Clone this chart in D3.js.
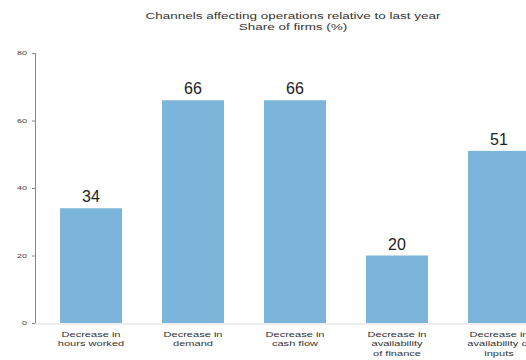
<!DOCTYPE html>
<html>
<head>
<meta charset="utf-8">
<script src="https://cdn.jsdelivr.net/npm/d3@7"></script>
<style>
  body { margin: 0; background: #fff; }
  text { font-family: "Liberation Sans", Arial, sans-serif; }
</style>
</head>
<body>
<svg id="chart" width="526" height="360"></svg>
<script>
// data
var categories = ["hours", "demand", "cashflow", "finance", "inputs"];
var labels = [
  ["Decrease in", "hours worked"],
  ["Decrease in", "demand"],
  ["Decrease in", "cash flow"],
  ["Decrease in", "availability", "of finance"],
  ["Decrease in", "availability of", "inputs"]
];
var values = [34, 66, 66, 20, 51];
var yTicks = [0, 20, 40, 60, 80];
var titleLines = ["Channels affecting operations relative to last year", "Share of firms (%)"];

// text in the reference is stretched sideways
var stretch = 1.42;

var svg = d3.select("#chart");

var x = d3.scaleBand()
  .domain(categories)
  .range([40, 550])
  .paddingInner(0.392)
  .paddingOuter(0.196);

var y = d3.scaleLinear()
  .domain([0, 80])
  .range([323, 53]);

// title
svg.selectAll(".title")
  .data(titleLines)
  .enter()
  .append("text")
  .attr("class", "title")
  .attr("text-anchor", "middle")
  .attr("font-size", "9.5px")
  .attr("fill", "#333")
  .attr("transform", function(d, i) { return "translate(293," + (19 + i * 11) + ") scale(" + stretch + ",1)"; })
  .text(function(d) { return d; });

// y axis
var yAxis = svg.append("g")
  .attr("transform", "translate(35,0)")
  .call(d3.axisLeft(y).tickValues(yTicks).tickSize(3).tickFormat(""));
yAxis.select(".domain").attr("stroke", "#888");
yAxis.selectAll(".tick line").attr("stroke", "#888");

svg.selectAll(".ytick")
  .data(yTicks)
  .enter()
  .append("text")
  .attr("class", "ytick")
  .attr("text-anchor", "end")
  .attr("font-size", "6px")
  .attr("fill", "#444")
  .attr("transform", function(d) { return "translate(27," + (y(d) + 2) + ") scale(1.5,1)"; })
  .text(function(d) { return d; });

// baseline
svg.append("line")
  .attr("x1", 35).attr("x2", 526)
  .attr("y1", y(0) + 1).attr("y2", y(0) + 1)
  .attr("stroke", "#ddd");

// bars
svg.selectAll(".bar")
  .data(values)
  .enter()
  .append("rect")
  .attr("class", "bar")
  .attr("x", function(d, i) { return x(categories[i]); })
  .attr("y", function(d) { return y(d); })
  .attr("width", x.bandwidth())
  .attr("height", function(d) { return y(0) - y(d); })
  .attr("fill", "#7bb5da");

// value labels
svg.selectAll(".val")
  .data(values)
  .enter()
  .append("text")
  .attr("class", "val")
  .attr("x", function(d, i) { return x(categories[i]) + x.bandwidth() / 2; })
  .attr("y", function(d) { return y(d) - 6; })
  .attr("text-anchor", "middle")
  .attr("font-size", "16px")
  .attr("fill", "#222")
  .text(function(d) { return d; });

// category labels
var cat = svg.selectAll(".cat")
  .data(labels)
  .enter()
  .append("text")
  .attr("class", "cat")
  .attr("text-anchor", "middle")
  .attr("font-size", "7.8px")
  .attr("fill", "#333")
  .attr("transform", function(d, i) {
    return "translate(" + (x(categories[i]) + x.bandwidth() / 2) + ",337) scale(" + stretch + ",1)";
  });
cat.selectAll("tspan")
  .data(function(d) { return d; })
  .enter()
  .append("tspan")
  .attr("x", 0)
  .attr("dy", function(d, i) { return i === 0 ? 0 : 9.5; })
  .text(function(d) { return d; });
</script>
</body>
</html>
